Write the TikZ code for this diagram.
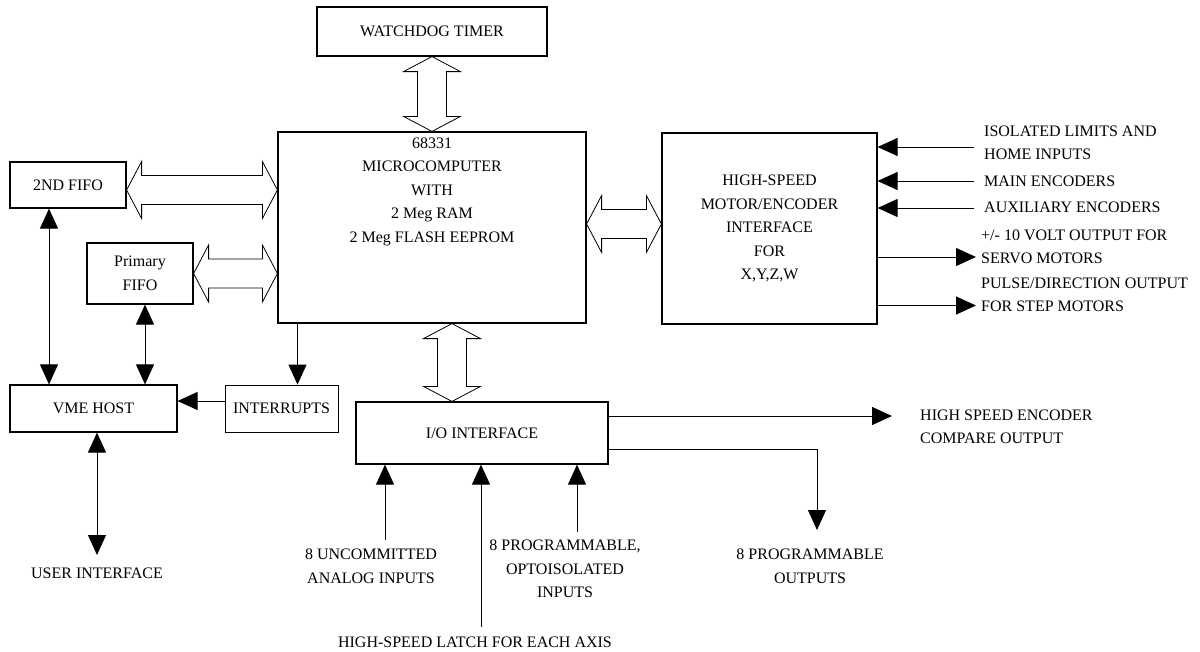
\documentclass[tikz,border=0pt]{standalone}
\usepackage{fontspec}
\setmainfont{Liberation Serif}
\usetikzlibrary{arrows.meta,calc}

% hollow double bus arrows, tip to tip
\newcommand{\hbus}[2]{%
\draw[bus] let \p1=(#1), \p2=(#2) in
  (\x1,\y1) -- (\x1+15pt,\y1+28.5pt) -- (\x1+15pt,\y1+14.5pt) -- (\x2-15pt,\y1+14.5pt)
  -- (\x2-15pt,\y1+28.5pt) -- (\x2,\y1) -- (\x2-15pt,\y1-28.5pt) -- (\x2-15pt,\y1-14.5pt)
  -- (\x1+15pt,\y1-14.5pt) -- (\x1+15pt,\y1-28.5pt) -- cycle;}
\newcommand{\vbus}[2]{%
\draw[bus] let \p1=(#1), \p2=(#2) in
  (\x1,\y1) -- (\x1+28.5pt,\y1-15pt) -- (\x1+14.5pt,\y1-15pt) -- (\x1+14.5pt,\y2+15pt)
  -- (\x1+28.5pt,\y2+15pt) -- (\x1,\y2) -- (\x1-28.5pt,\y2+15pt) -- (\x1-14.5pt,\y2+15pt)
  -- (\x1-14.5pt,\y1-15pt) -- (\x1-28.5pt,\y1-15pt) -- cycle;}

\begin{document}
\begin{tikzpicture}[
x=1pt,y=-1pt,
font=\fontsize{16}{23.5}\selectfont,
block/.style={draw,line width=1.2pt,inner sep=0pt,align=center},
thinblock/.style={draw,line width=0.8pt,inner sep=0pt,align=center},
bus/.style={draw,line width=0.8pt,fill=white},
sig/.style={line width=1pt,-{Triangle[length=20pt,width=18pt]}},
dsig/.style={line width=1pt,{Triangle[length=20pt,width=18pt]}-{Triangle[length=20pt,width=18pt]}},
lbl/.style={align=center,inner sep=0pt},
rlbl/.style={align=left,anchor=west,inner sep=0pt}
]
\useasboundingbox (0,0) rectangle (1200,651);

% blocks
\node[block,minimum width=230pt,minimum height=49pt] (watchdog) at (432,31.5) {WATCHDOG TIMER};
\node[block,minimum width=308pt,minimum height=191pt] (micro) at (432,227.5) {};
\node[lbl] (microtxt) at (432,191.5) {68331\\MICROCOMPUTER\\WITH\\2 Meg RAM\\2 Meg FLASH EEPROM};
\node[block,minimum width=215pt,minimum height=191pt] (motor) at (769.5,228.5)
  {HIGH-SPEED\\MOTOR/ENCODER\\INTERFACE\\FOR\\X,Y,Z,W};
\node[block,minimum width=116pt,minimum height=46pt] (fifotwo) at (68,185) {2ND FIFO};
\node[block,minimum width=106pt,minimum height=61pt] (fifoone) at (140,273.5) {Primary\\FIFO};
\node[block,minimum width=167pt,minimum height=47pt] (vme) at (93.5,408.5) {VME HOST};
\node[thinblock,minimum width=113pt,minimum height=47pt] (intr) at (281.5,408.5) {INTERRUPTS};
\node[block,minimum width=252pt,minimum height=62pt] (io) at (482,433) {I/O INTERFACE};

% buses
\vbus{watchdog.south}{micro.north}
\vbus{[xshift=20pt]micro.south}{[xshift=20pt]micro.south |- io.north}
\hbus{[yshift=-5pt]fifotwo.east}{[yshift=-5pt]fifotwo.east -| micro.west}
\hbus{fifoone.east}{fifoone.east -| micro.west}
\hbus{[yshift=3.5pt]micro.east}{[yshift=3.5pt]micro.east -| motor.west}

% host side
\draw[dsig] ([xshift=-19pt]fifotwo.south) -- ([xshift=-19pt]fifotwo.south |- vme.north);
\draw[dsig] ([xshift=5pt]fifoone.south) -- ([xshift=5pt]fifoone.south |- vme.north);
\draw[sig] ([xshift=16pt]intr.north |- micro.south) -- ([xshift=16pt]intr.north);
\draw[sig] ([yshift=7.5pt]intr.west) -- ([yshift=7.5pt]intr.west -| vme.east);
\coordinate (usr) at (97,555);
\draw[dsig] (usr |- vme.south) -- (usr);
\node[lbl] (usrlbl) at (97,573) {USER INTERFACE};

% motor signals
\coordinate (limin) at (974,147);
\coordinate (mainin) at (974,181);
\coordinate (auxin) at (974,208);
\coordinate (servo) at (976,257);
\coordinate (step) at (976,305.5);
\draw[sig] (limin) -- (limin -| motor.east);
\draw[sig] (mainin) -- (mainin -| motor.east);
\draw[sig] (auxin) -- (auxin -| motor.east);
\draw[sig] (servo -| motor.east) -- (servo);
\draw[sig] (step -| motor.east) -- (step);
\node[rlbl] (limlbl) at (984,143) {ISOLATED LIMITS AND\\HOME INPUTS};
\node[rlbl] (mainlbl) at (984,181) {MAIN ENCODERS};
\node[rlbl] (auxlbl) at (984,207) {AUXILIARY ENCODERS};
\node[rlbl] (servolbl) at (981,247) {+/- 10 VOLT OUTPUT FOR\\SERVO MOTORS};
\node[rlbl] (steplbl) at (981,295) {PULSE/DIRECTION OUTPUT\\FOR STEP MOTORS};

% I/O signals
\coordinate (anain) at (385,540);
\coordinate (latch) at (481,627);
\coordinate (opto) at (577,532);
\draw[sig] (anain) -- (anain |- io.south);
\draw[sig] (latch) -- (latch |- io.south);
\draw[sig] (opto) -- (opto |- io.south);
\node[lbl] (analbl) at (371,566) {8 UNCOMMITTED\\ANALOG INPUTS};
\node[lbl] (latchlbl) at (475,642) {HIGH-SPEED LATCH FOR EACH AXIS};
\node[lbl] (optolbl) at (565,569) {8 PROGRAMMABLE,\\OPTOISOLATED\\INPUTS};
\coordinate (cmpout) at (892,416);
\coordinate (progout) at (817,530);
\draw[sig] ([yshift=17pt]io.east) -- (cmpout);
\draw[sig] ([yshift=-16pt]io.east) -| (progout);
\node[rlbl] (cmplbl) at (920,427) {HIGH SPEED ENCODER\\COMPARE OUTPUT};
\node[lbl] (outlbl) at (810,566) {8 PROGRAMMABLE\\OUTPUTS};

\end{tikzpicture}
\end{document}
